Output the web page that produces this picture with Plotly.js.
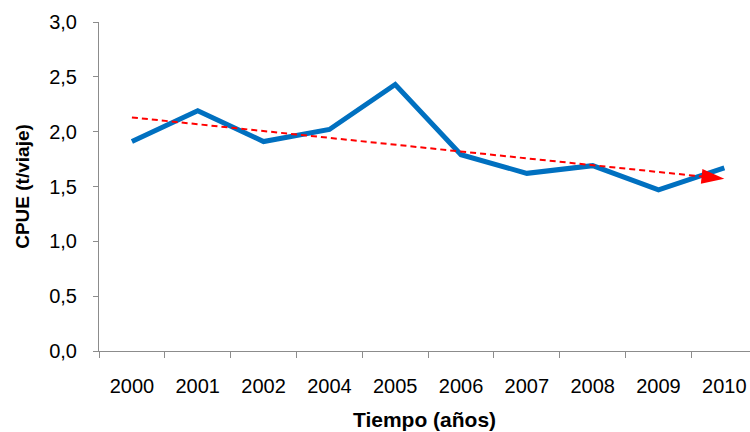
<!DOCTYPE html>
<html>
<head>
<meta charset="utf-8">
<script src="https://cdn.plot.ly/plotly-3.0.1.min.js"></script>
<style>html,body{margin:0;padding:0;background:#fff;}#chart{width:750px;height:432px;}</style>
</head>
<body>
<div id="chart"></div>
<script>
var years = ['2000','2001','2002','2004','2005','2006','2007','2008','2009','2010'];
var cpue = [1.91, 2.19, 1.91, 2.02, 2.43, 1.79, 1.62, 1.69, 1.47, 1.67];
var trendYears = ['2000','2010'];
var trendValues = [2.13, 1.57];
var yTicks = [0, 0.5, 1.0, 1.5, 2.0, 2.5, 3.0];

var font = 'Liberation Sans, Arial, sans-serif';

var traces = [
  {
    x: years, y: cpue, type: 'scatter', mode: 'lines',
    line: {color: '#0070C0', width: 5},
    hoverinfo: 'skip', showlegend: false
  },
  {
    x: trendYears, y: trendValues, type: 'scatter', mode: 'lines+markers',
    line: {color: '#FF0000', width: 2, dash: '6px,4px'},
    marker: {symbol: ['circle', 'arrow'], size: [0, 24], color: '#FF0000', opacity: 1, angleref: 'previous', line: {width: 0}},
    hoverinfo: 'skip', showlegend: false
  }
];

var layout = {
  width: 750, height: 432,
  margin: {l: 99, r: 0, t: 22, b: 81},
  paper_bgcolor: '#fff', plot_bgcolor: '#fff',
  separators: ',.',
  font: {family: font, color: '#000', size: 20},
  showlegend: false,
  xaxis: {
    type: 'category', categoryorder: 'array', categoryarray: years,
    range: [-0.5, 9.39],
    showgrid: false, zeroline: false,
    showline: true, linecolor: '#8c8c8c', linewidth: 1,
    ticks: 'outside', tickson: 'boundaries', ticklen: 6, tickcolor: '#8c8c8c',
    tickfont: {family: font, size: 20, color: '#000'},
    ticklabelstandoff: 17,
    title: {text: '<b>Tiempo (años)</b>', font: {family: font, size: 21, color: '#000'}, standoff: 16}
  },
  yaxis: {
    range: [0, 3], tickvals: yTicks, tickformat: '.1f',
    showgrid: false, zeroline: false,
    showline: true, linecolor: '#8c8c8c', linewidth: 1,
    ticks: 'outside', ticklen: 5, tickcolor: '#8c8c8c',
    tickfont: {family: font, size: 20, color: '#000'},
    ticklabelstandoff: 12,
    title: {text: '<b>CPUE (t/viaje)</b>', font: {family: font, size: 19, color: '#000'}, standoff: 14}
  }
};

Plotly.newPlot('chart', traces, layout, {staticPlot: true, displayModeBar: false});
</script>
</body>
</html>
